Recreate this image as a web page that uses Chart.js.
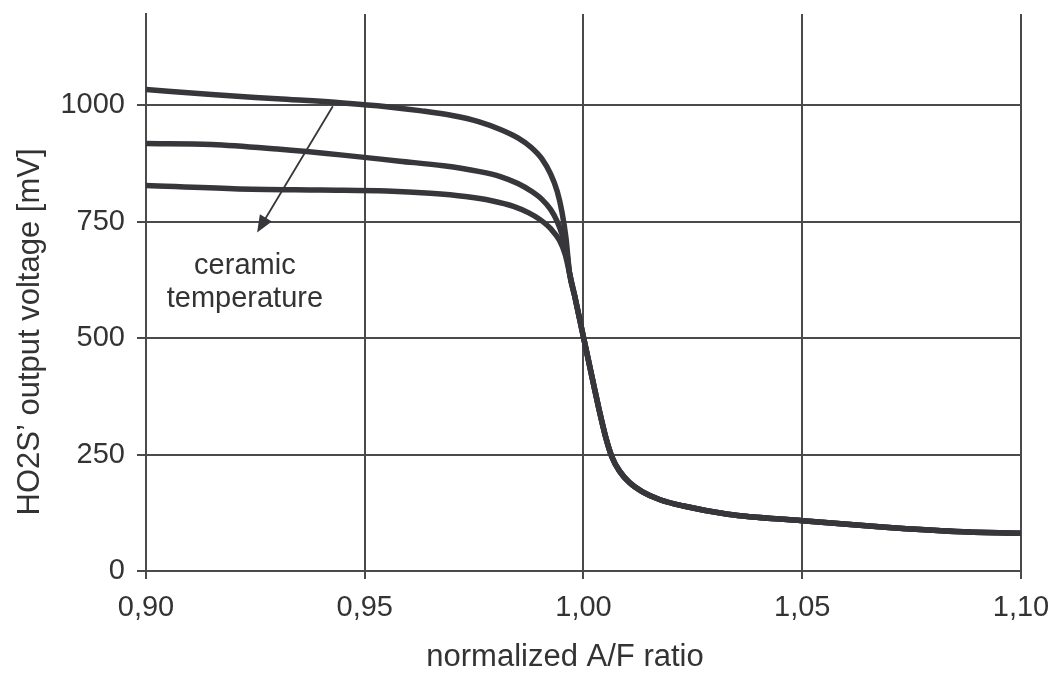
<!DOCTYPE html>
<html>
<head>
<meta charset="utf-8">
<script src="https://cdn.jsdelivr.net/npm/chart.js@4.4.0/dist/chart.umd.min.js"></script>
<style>
html,body{margin:0;padding:0;background:#fff;}
#wrap{width:1055px;height:681px;position:relative;}
</style>
</head>
<body>
<div id="wrap"><canvas id="c"></canvas></div>
<script>
// ---- data ----
const xTickValues = [0.90, 0.95, 1.00, 1.05, 1.10];
const xTickLabels = ['0,90', '0,95', '1,00', '1,05', '1,10'];
const yTickValues = [0, 250, 500, 750, 1000];
const yTickLabels = ['0', '250', '500', '750', '1000'];

const xTitle = 'normalized A/F ratio';
const yTitle = 'HO2S\u2019 output voltage [mV]';

// shared lean branch (all curves merge)
const tailX = [0.9968, 0.9980, 1.0000, 1.0020, 1.0036, 1.0050, 1.0065, 1.0082, 1.0105, 1.0135, 1.0175, 1.0226, 1.0330, 1.0500, 1.0690, 1.0850, 1.1000];
const tailY = [640, 590, 502, 414, 345, 290, 245, 215, 190, 170, 153, 140, 122, 108, 94, 85, 81];

const curve1X = [0.900, 0.915, 0.930, 0.945, 0.955, 0.963, 0.970, 0.976, 0.981, 0.985, 0.988, 0.9905, 0.9925, 0.9940, 0.9951, 0.9960];
const curve1Y = [1034, 1023, 1014, 1005, 997, 988, 978, 965, 948, 930, 910, 885, 852, 815, 770, 715];

const curve2X = [0.900, 0.915, 0.930, 0.945, 0.958, 0.968, 0.976, 0.981, 0.985, 0.988, 0.9905, 0.9925, 0.9940, 0.9952, 0.9961];
const curve2Y = [918, 916, 906, 893, 880, 870, 858, 847, 832, 816, 798, 776, 750, 720, 690];

const curve3X = [0.900, 0.920, 0.940, 0.955, 0.965, 0.973, 0.979, 0.984, 0.9875, 0.9900, 0.9925, 0.9945, 0.9958];
const curve3Y = [828, 821, 818, 816, 811, 804, 795, 783, 769, 755, 735, 710, 680];

const arrowFrom = [0.9427, 998];
const arrowTo = [0.9254, 727];
const noteLines = ['ceramic', 'temperature'];
const notePos = [[0.9226, 654], [0.9226, 583]];

// ---- build ----
function pts(xs, ys) {
  const a = xs.map((x, i) => ({x: x, y: ys[i]}));
  return a.concat(tailX.map((x, i) => ({x: x, y: tailY[i]})));
}
const ink = '#37363b';
const gridC = '#4a4a4a';
const textC = '#333';
const FONT = '"Liberation Sans", Arial, sans-serif';

const dsBase = {
  borderColor: ink, borderWidth: 5.5, pointRadius: 0, fill: false,
  cubicInterpolationMode: 'monotone', borderCapStyle: 'round', borderJoinStyle: 'round'
};

const notePlugin = {
  id: 'note',
  afterDatasetsDraw(chart) {
    const {ctx, scales: {x, y}} = chart;
    const x0 = x.getPixelForValue(arrowFrom[0]), y0 = y.getPixelForValue(arrowFrom[1]);
    const x1 = x.getPixelForValue(arrowTo[0]), y1 = y.getPixelForValue(arrowTo[1]);
    const ang = Math.atan2(y1 - y0, x1 - x0);
    const L = 17, W = 7;
    ctx.save();
    ctx.strokeStyle = ink; ctx.fillStyle = ink; ctx.lineWidth = 1.8;
    ctx.beginPath();
    ctx.moveTo(x0, y0);
    ctx.lineTo(x1 - Math.cos(ang) * L * 0.8, y1 - Math.sin(ang) * L * 0.8);
    ctx.stroke();
    ctx.beginPath();
    ctx.moveTo(x1, y1);
    const bx = x1 - Math.cos(ang) * L, by = y1 - Math.sin(ang) * L;
    ctx.lineTo(bx + Math.sin(ang) * W, by - Math.cos(ang) * W);
    ctx.lineTo(bx - Math.sin(ang) * W, by + Math.cos(ang) * W);
    ctx.closePath();
    ctx.fill();
    ctx.fillStyle = textC;
    ctx.font = '29px ' + FONT;
    ctx.textAlign = 'center'; ctx.textBaseline = 'middle';
    noteLines.forEach((t, i) => {
      ctx.fillText(t, x.getPixelForValue(notePos[i][0]), y.getPixelForValue(notePos[i][1]));
    });
    // axis titles
    ctx.font = '31px ' + FONT;
    ctx.fillText(xTitle, 565, 657);
    ctx.translate(30, 332);
    ctx.rotate(-Math.PI / 2);
    ctx.fillText(yTitle, 0, 0);
    ctx.restore();
  }
};

new Chart(document.getElementById('c'), {
  type: 'line',
  data: {
    datasets: [
      Object.assign({label: 'c1', data: pts(curve1X, curve1Y)}, dsBase),
      Object.assign({label: 'c2', data: pts(curve2X, curve2Y)}, dsBase),
      Object.assign({label: 'c3', data: pts(curve3X, curve3Y)}, dsBase)
    ]
  },
  options: {
    responsive: true, maintainAspectRatio: false, animation: false,
    layout: {padding: {top: 14, right: 34, left: 0, bottom: 0}},
    plugins: {legend: {display: false}, tooltip: {enabled: false}},
    scales: {
      x: {
        type: 'linear', min: 0.9, max: 1.1,
        afterBuildTicks: s => { s.ticks = xTickValues.map(v => ({value: v})); },
        afterFit: s => { s.height = 110; s.paddingLeft = 0; s.paddingRight = 0; },
        ticks: {
          callback: (v, i) => xTickLabels[i],
          color: textC, font: {family: FONT, size: 29}, padding: 12, maxRotation: 0, autoSkip: false
        },
        grid: {color: gridC, lineWidth: 2, tickLength: 8, tickColor: gridC},
        border: {color: gridC, width: 2}
      },
      y: {
        type: 'linear', min: 0, max: 1196,
        afterBuildTicks: s => { s.ticks = yTickValues.map(v => ({value: v})); },
        afterFit: s => { s.width = 146; s.paddingTop = 0; s.paddingBottom = 0; },
        ticks: {
          callback: (v, i) => yTickLabels[i],
          color: textC, font: {family: FONT, size: 29}, padding: 12, autoSkip: false
        },
        grid: {color: gridC, lineWidth: 2, tickLength: 9, tickColor: gridC},
        border: {color: gridC, width: 2}
      }
    }
  },
  plugins: [notePlugin]
});
</script>
</body>
</html>
